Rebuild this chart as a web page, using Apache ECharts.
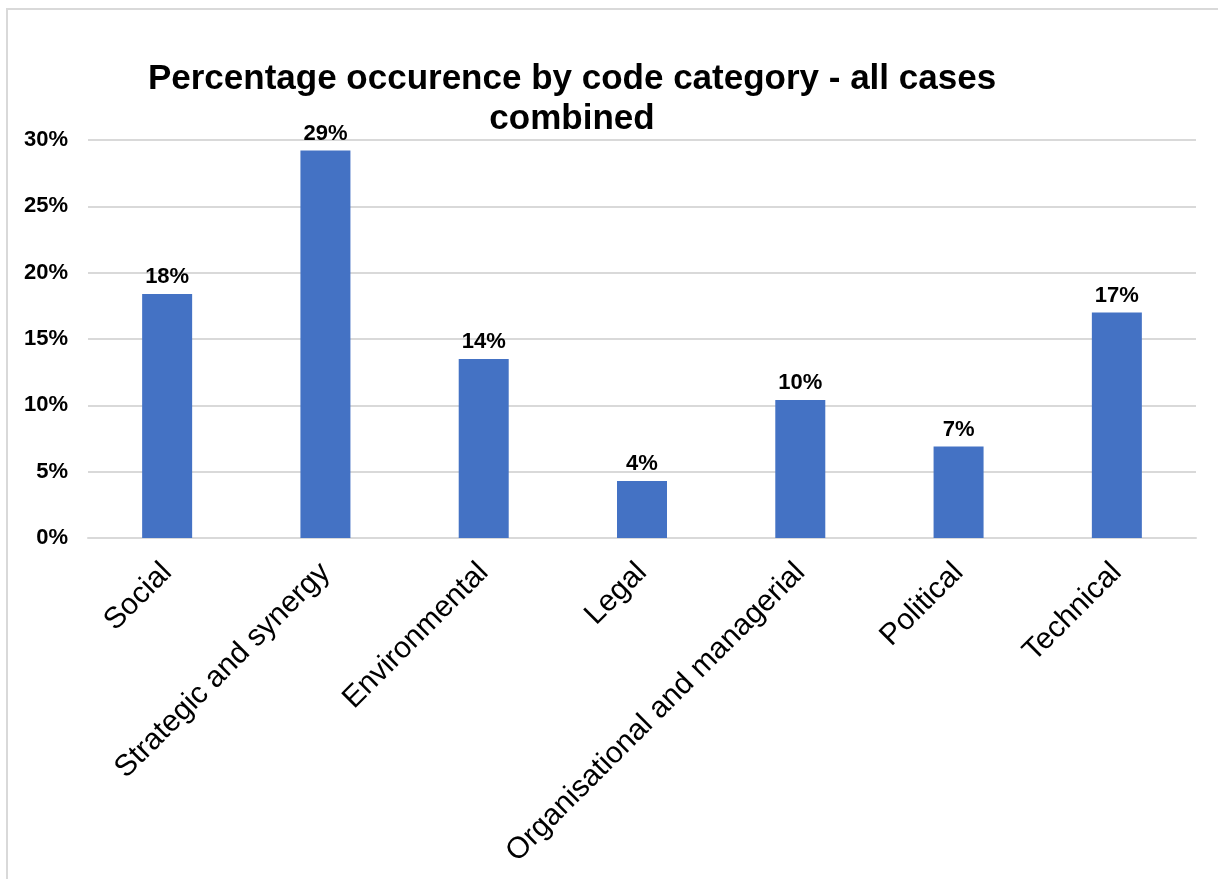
<!DOCTYPE html>
<html>
<head>
<meta charset="utf-8">
<script src="https://cdn.jsdelivr.net/npm/echarts@6/dist/echarts.min.js"></script>
<style>
  html, body { margin: 0; padding: 0; background: #fff; }
  #frame { position: absolute; left: 6px; top: 8px; right: 0; bottom: 0;
           border-left: 2px solid #d9d9d9; border-top: 2px solid #d9d9d9; }
  #chart { position: absolute; left: 0; top: 0; width: 1218px; height: 879px; }
</style>
</head>
<body>
<div id="frame"></div>
<div id="chart"></div>
<script>
// categories and values (percent)
const categories = ['Social', 'Strategic and synergy', 'Environmental', 'Legal',
  'Organisational and managerial', 'Political', 'Technical']
const values = [18.4, 29.2, 13.5, 4.3, 10.4, 6.9, 17.0]
const yTicks = [0, 5, 10, 15, 20, 25, 30]

const font = 'Liberation Sans, Arial, sans-serif'

let myChart = echarts.init(document.getElementById('chart'))
myChart.setOption({
    backgroundColor: 'transparent',
    title: {
        text: 'Percentage occurence by code category - all cases\ncombined',
        left: 567,
        top: 54,
        textAlign: 'center',
        textStyle: {
            fontFamily: font,
            fontSize: 35,
            fontWeight: 'bold',
            color: '#000',
            lineHeight: 40
        }
    },
    grid: { left: 88, right: 22, top: 140, bottom: 341, containLabel: false },
    xAxis: {
        type: 'category',
        data: categories,
        axisLine: { lineStyle: { color: '#d9d9d9', width: 2 } },
        axisTick: { show: false },
        axisLabel: {
            rotate: 45,
            interval: 0,
            margin: 30,
            fontFamily: font,
            fontSize: 30,
            color: '#000'
        }
    },
    yAxis: {
        type: 'value',
        min: yTicks[0],
        max: yTicks[yTicks.length - 1],
        interval: 5,
        axisLine: { show: false },
        axisTick: { show: false },
        splitLine: { lineStyle: { color: '#d9d9d9', width: 2 } },
        axisLabel: {
            margin: 20,
            fontFamily: font,
            fontSize: 22,
            fontWeight: 'bold',
            color: '#000',
            formatter: v => v + '%'
        }
    },
    series: [{
        type: 'bar',
        data: values,
        barWidth: 50,
        itemStyle: { color: '#4472C4' },
        label: {
            show: true,
            position: 'top',
            distance: 6,
            fontFamily: font,
            fontSize: 22,
            fontWeight: 'bold',
            color: '#000',
            formatter: p => Math.round(p.value) + '%'
        }
    }]
})
</script>
</body>
</html>
